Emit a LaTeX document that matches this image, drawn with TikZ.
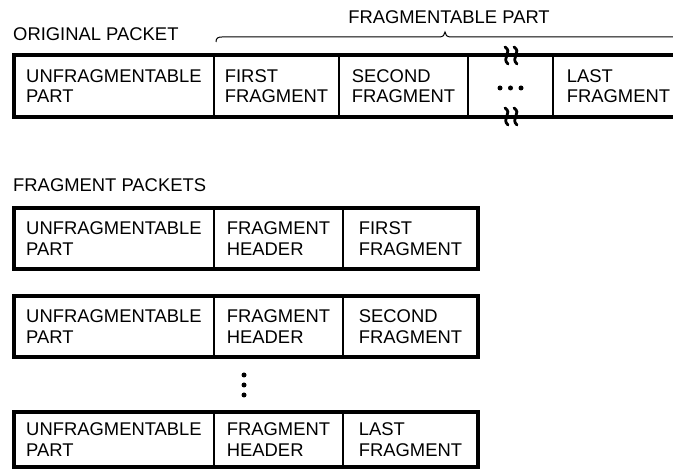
\documentclass[tikz,border=0pt]{standalone}
\usepackage{fontspec}
\setmainfont{Liberation Sans}
\begin{document}
\begin{tikzpicture}[x=1pt,y=-1pt,
  lbl/.style={align=left,inner sep=0pt,font=\fontsize{18.4}{20.5}\selectfont},
  head/.style={anchor=base west,inner sep=0pt,font=\fontsize{18.4}{20.5}\selectfont},
  frame/.style={line width=3.4pt},
  divider/.style={line width=1.8pt},
  brk/.style={line width=2.8pt,line cap=round},
  dot/.style={circle,fill=black,inner sep=0pt,minimum size=5pt}]
\useasboundingbox (0,0) rectangle (673,470);
% headings
\node[head] (hOrig) at (13,41) {ORIGINAL PACKET};
\node[inner sep=0pt,anchor=base,font=\fontsize{18.4}{20.5}\selectfont] (hFrag) at (449,24) {FRAGMENTABLE PART};
\node[head] (hPk) at (13,192) {FRAGMENT PACKETS};
% brace
\draw[line width=1pt] (216,42) .. controls (216,38) and (218,37) .. (222,37) -- (439,37)
  .. controls (443,37) and (445,35) .. (445,32) .. controls (445,35) and (447,37) .. (451,37) -- (680,37);
% original packet
\draw[frame] (680,55) -- (14,55) -- (14,117) -- (680,117);
\foreach \x in {214,339,468,553} \draw[divider] (\x,55) -- (\x,117);
\node[lbl] (o1) at (114,86) {UNFRAGMENTABLE\\PART};
\node[lbl] (o2) at (276.5,86) {FIRST\\FRAGMENT};
\node[lbl] (o3) at (403.5,86) {SECOND\\FRAGMENT};
\node[lbl] (o5) at (618.5,86) {LAST\\FRAGMENT};
\node[dot] (d1) at (500,88) {};
\node[dot] (d2) at (510.5,88) {};
\node[dot] (d3) at (521,88) {};
% break marks
\foreach \x in {507,516} {
  \draw[brk] (\x-2,47) .. controls (\x+6,52) and (\x-6,58) .. (\x+1,64);
  \draw[brk] (\x-2,108) .. controls (\x+6,113) and (\x-6,119) .. (\x+1,125);
}
% fragment packets
\foreach \t/\b/\n/\txt in {208/269/a/{FIRST\\FRAGMENT},296/357/b/{SECOND\\FRAGMENT},412/467/c/{LAST\\FRAGMENT}} {
  \draw[frame] (14,\t) rectangle (478,\b);
  \draw[divider] (214,\t) -- (214,\b);
  \draw[divider] (343,\t) -- (343,\b);
  \node[lbl] (\n1) at (114,{(\t+\b)/2}) {UNFRAGMENTABLE\\PART};
  \node[lbl] (\n2) at (278.5,{(\t+\b)/2}) {FRAGMENT\\HEADER};
  \node[lbl] (\n3) at (410.5,{(\t+\b)/2}) {\txt};
}
\node[dot] (v1) at (244,375) {};
\node[dot] (v2) at (244,385) {};
\node[dot] (v3) at (244,395) {};
\end{tikzpicture}
\end{document}
